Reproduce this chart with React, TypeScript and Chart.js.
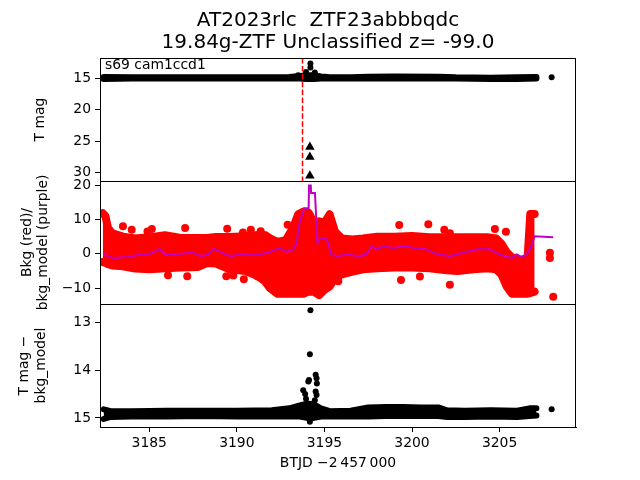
import React, { useEffect, useRef } from 'react';
import { Chart, registerables } from 'chart.js';

Chart.register(...registerables);

// ---------- text ----------
const TITLE_LINES = ['AT2023rlc  ZTF23abbbqdc', '19.84g-ZTF Unclassified z= -99.0'];
const PANEL_NOTE = 's69 cam1ccd1';
const X_TITLE = 'BTJD \u22122\u2009457\u2009000';
const Y1_TITLE = 'T mag';
const Y2_TITLE = ['Bkg (red)/', 'bkg_model (purple)'];
const Y3_TITLE = ['T mag \u2212', 'bkg_model'];

// ---------- axes ----------
const X_MIN = 3182.19;
const X_MAX = 3209.36;
const X_TICKS = [3185, 3190, 3195, 3200, 3205];
const Y1_MIN = 11.78;
const Y1_MAX = 31.3;
const Y1_TICKS = [15, 20, 25, 30];
const Y2_MIN = -14.6;
const Y2_MAX = 21.2;
const Y2_TICKS = [-10, 0, 10, 20];
const Y3_MIN = 12.62;
const Y3_MAX = 15.19;
const Y3_TICKS = [13, 14, 15];

// ---------- panel 1: TESS magnitude ----------
const EVENT_T = 3193.75;
const MAG_BAND_T = [3182.4, 3184, 3186, 3188, 3190, 3192, 3193.0, 3193.6, 3194.0, 3194.4, 3194.8, 3195.3, 3196.5, 3197.5, 3199, 3201.5, 3202.5, 3204.5, 3206, 3207.1];
const MAG_BAND_BRIGHT = [14.8, 14.85, 14.85, 14.85, 14.85, 14.85, 14.8, 14.65, 14.5, 14.5, 14.7, 14.85, 14.85, 14.75, 14.7, 14.75, 14.85, 14.9, 14.85, 14.8];
const MAG_BAND_FAINT = [15.1, 15.05, 15.05, 15.05, 15.05, 15.05, 15.05, 15.05, 15.1, 15.1, 15.05, 15.05, 15.05, 15.05, 15.05, 15.05, 15.05, 15.1, 15.1, 15.05];
const MAG_PT_T = [3194.2, 3194.2, 3193.95, 3194.45, 3193.5, 3207.97];
const MAG_PT_V = [12.65, 13.3, 14.0, 14.1, 14.5, 14.85];
const LIMIT_T = [3194.17, 3194.17, 3194.17];
const LIMIT_MAG = [25.9, 27.5, 30.45];

// ---------- panel 2: background ----------
const BKG_BAND_T = [3182.35, 3182.5, 3182.65, 3182.9, 3183.5, 3184.2, 3185.0, 3185.9, 3186.8, 3187.8, 3188.3, 3188.8, 3189.6, 3190.5, 3191.2, 3191.6, 3191.9, 3192.3, 3192.8, 3193.2, 3193.5, 3193.8, 3194.1, 3194.4, 3194.7, 3195.0, 3195.3, 3195.6, 3196.0, 3196.6, 3197.2, 3198.0, 3199.0, 3200.0, 3201.0, 3202.0, 3202.6, 3203.5, 3204.3, 3204.8, 3205.1, 3205.4, 3205.7, 3206.2, 3206.6, 3206.75, 3207.0];
const BKG_BAND_HI = [11.8, 11.0, 7.5, 6.0, 5.0, 4.5, 4.8, 5.4, 4.6, 4.6, 4.6, 4.9, 4.9, 5.1, 5.5, 5.5, 4.5, 3.5, 4.0, 7.5, 11.5, 12.3, 12.0, 9.0, 9.5, 9.0, 11.5, 6.5, 4.5, 4.2, 4.5, 5.0, 5.0, 5.2, 4.8, 4.8, 4.8, 4.8, 4.8, 4.5, 3.0, 0.5, -1.0, -2.0, -1.0, 11.6, 11.6];
const BKG_BAND_LO = [-2.4, -2.6, -3.0, -3.4, -3.6, -4.3, -4.5, -4.2, -4.0, -3.8, -2.7, -2.8, -4.5, -5.0, -6.5, -8.0, -10.0, -11.6, -11.6, -11.6, -11.6, -11.6, -11.0, -11.0, -12.0, -10.5, -9.5, -7.0, -6.0, -5.2, -4.5, -4.2, -4.0, -4.0, -4.2, -4.8, -5.0, -4.5, -4.2, -4.5, -6.0, -9.5, -11.6, -11.6, -11.6, -11.4, -11.0];
const BKG_PT_T = [3183.5, 3184.0, 3184.9, 3185.15, 3187.05, 3189.45, 3190.35, 3190.8, 3191.36, 3186.07, 3187.17, 3189.4, 3189.8, 3190.4, 3191.17, 3191.8, 3192.9, 3195.79, 3199.27, 3199.37, 3200.45, 3200.93, 3201.84, 3202.16, 3202.16, 3204.73, 3205.36, 3207.87, 3207.87, 3208.06];
const BKG_PT_V = [8.0, 7.0, 6.5, 7.2, 7.5, 7.3, 6.2, 7.0, 6.6, -6.2, -6.5, -6.5, -6.3, -7.4, -6.5, -8.8, 8.5, -8.0, 8.4, -7.6, -6.6, 8.6, 7.0, 6.0, -9.0, 7.2, 6.4, 0.3, -1.2, -12.5];
const MODEL_T = [3182.4, 3182.7, 3183.0, 3183.4, 3183.8, 3184.2, 3184.45, 3184.7, 3185.2, 3185.6, 3185.9, 3186.4, 3186.8, 3187.5, 3188.0, 3188.4, 3188.7, 3189.3, 3189.7, 3190.25, 3190.8, 3191.3, 3191.8, 3192.2, 3192.46, 3192.84, 3193.22, 3193.4, 3193.6, 3193.85, 3194.1, 3194.12, 3194.22, 3194.24, 3194.46, 3194.6, 3194.75, 3195.12, 3195.4, 3195.78, 3196.27, 3197.0, 3197.4, 3197.7, 3198.0, 3198.36, 3198.9, 3199.7, 3200.26, 3200.7, 3201.4, 3202.16, 3202.9, 3203.7, 3204.45, 3205.0, 3205.4, 3205.7, 3205.97, 3206.25, 3206.5, 3206.73, 3207.0, 3208.06];
const MODEL_V = [-0.2, -0.8, -1.3, -1.0, -0.9, -0.5, 0.0, -0.4, 0.3, 1.5, -0.2, -0.1, 0.0, 0.3, -0.7, 0.0, 1.5, 0.0, -0.7, 0.0, -0.4, -0.2, 0.4, 1.2, 1.7, 0.6, 1.3, 3.0, 9.5, 13.3, 13.3, 19.9, 19.9, 17.7, 17.7, 3.2, 4.6, 4.6, -0.3, -0.7, -0.2, -0.7, 0.0, 2.2, 1.3, 2.2, 1.7, 2.2, 1.5, 1.5, 0.0, -0.7, 0.3, 1.3, 1.3, -0.2, -0.8, -1.2, -0.2, -0.9, -0.3, 1.3, 5.1, 4.8];

// ---------- panel 3: T mag - bkg_model ----------
const DIFF_BAND_T = [3182.4, 3182.8, 3184, 3186, 3188, 3190, 3192, 3193.0, 3193.6, 3194.0, 3194.4, 3194.8, 3195.3, 3196.5, 3197.5, 3198.5, 3199.5, 3200.5, 3201.5, 3202.0, 3203, 3204.5, 3206, 3206.7, 3207.1];
const DIFF_BAND_HI = [14.82, 14.86, 14.86, 14.85, 14.85, 14.85, 14.84, 14.8, 14.74, 14.7, 14.72, 14.8, 14.86, 14.85, 14.78, 14.77, 14.77, 14.78, 14.78, 14.84, 14.85, 14.84, 14.85, 14.8, 14.8];
const DIFF_BAND_LO = [15.02, 14.98, 14.97, 14.97, 14.96, 14.97, 14.97, 14.97, 14.97, 15.0, 15.0, 14.97, 14.97, 14.97, 14.97, 14.96, 14.96, 14.96, 14.96, 14.98, 14.98, 14.97, 14.98, 14.96, 14.95];
const DIFF_PT_T = [3194.2, 3194.17, 3193.79, 3193.9, 3194.08, 3194.12, 3194.5, 3194.55, 3194.57, 3194.5, 3194.55, 3194.45, 3194.17, 3193.95, 3207.97];
const DIFF_PT_V = [12.75, 13.67, 14.42, 14.5, 14.24, 14.21, 14.1, 14.17, 14.28, 14.45, 14.52, 14.63, 15.08, 14.6, 14.82];

const FONT = 'DejaVu Sans';
const zip = (t: number[], v: number[]) => t.map((x, i) => ({ x, y: v[i] }));
const fmt = (v: number) => (v < 0 ? '\u2212' + Math.abs(v) : String(v));

const band = (id: string, t: number[], hi: number[], lo: number[], color: string, width: number) => [
  { type: 'line', yAxisID: id, data: zip(t, hi), borderColor: color, backgroundColor: color, borderWidth: width, pointRadius: 0, fill: '+1', borderJoinStyle: 'round', borderCapStyle: 'round', order: 3 },
  { type: 'line', yAxisID: id, data: zip(t, lo), borderColor: color, backgroundColor: color, borderWidth: width, pointRadius: 0, fill: false, borderJoinStyle: 'round', borderCapStyle: 'round', order: 3 },
];
const dots = (id: string, t: number[], v: number[], color: string, r: number, style = 'circle', order = 2) => ({
  type: 'line', yAxisID: id, data: zip(t, v), showLine: false, pointStyle: style, pointRadius: r,
  pointBackgroundColor: color, pointBorderColor: color, pointBorderWidth: 0, order,
});

const yAxis = (min: number, max: number, ticks: number[], reverse: boolean, weight: number, title: string | string[], padTop: number) => ({
  type: 'linear', position: 'left', stack: 'panels', stackWeight: 1, weight, min, max, reverse,
  afterBuildTicks: (s: any) => { s.ticks = ticks.map((value) => ({ value })); },
  afterFit: (s: any) => { s.width = 84; },
  ticks: { color: '#000', font: { family: FONT, size: 13.9 }, padding: 4, callback: (v: any) => fmt(Number(v)) },
  grid: { display: true, drawOnChartArea: false, drawTicks: true, tickLength: 5, color: '#000', tickColor: '#000' },
  border: { display: true, color: '#000', width: 1 },
  title: { display: true, text: title, color: '#000', font: { family: FONT, size: 13.9, lineHeight: 1.2 }, padding: { top: padTop, bottom: 0 } },
});

const framePlugin = {
  id: 'frames',
  afterDraw(chart: any) {
    const { ctx, chartArea } = chart;
    ctx.save();
    ctx.strokeStyle = '#000';
    ctx.lineWidth = 1;
    for (const id of ['y1', 'y2', 'y3']) {
      const s = chart.scales[id];
      ctx.strokeRect(Math.round(chartArea.left) + 0.5, Math.round(s.top) + 0.5, Math.round(chartArea.right - chartArea.left) - 1, Math.round(s.bottom - s.top));
    }
    ctx.font = `13.9px "${FONT}"`;
    ctx.fillStyle = '#000';
    ctx.textAlign = 'left';
    ctx.textBaseline = 'middle';
    ctx.fillText(PANEL_NOTE, chartArea.left + 5, chart.scales.y1.top + 7);
    ctx.restore();
  },
};

export default function App() {
  const ref = useRef<HTMLCanvasElement>(null);
  useEffect(() => {
    if (!ref.current) return;
    const datasets: any[] = [
      {
        type: 'line', yAxisID: 'y1', data: [{ x: EVENT_T, y: Y1_MIN }, { x: EVENT_T, y: Y1_MAX }],
        borderColor: '#ff0000', borderWidth: 1.5, borderDash: [5.5, 2.4], pointRadius: 0, fill: false, order: 0,
      },
      dots('y1', LIMIT_T, LIMIT_MAG, '#000', 5.5, 'triangle', 1),
      dots('y1', MAG_PT_T, MAG_PT_V, '#000', 3),
      ...band('y1', MAG_BAND_T, MAG_BAND_BRIGHT, MAG_BAND_FAINT, '#000', 6),
      { type: 'line', yAxisID: 'y2', data: zip(MODEL_T, MODEL_V), borderColor: '#bf00bf', borderWidth: 2, pointRadius: 0, fill: false, order: 0 },
      dots('y2', BKG_PT_T, BKG_PT_V, '#ff0000', 4),
      ...band('y2', BKG_BAND_T, BKG_BAND_HI, BKG_BAND_LO, '#ff0000', 8),
      dots('y3', DIFF_PT_T, DIFF_PT_V, '#000', 3),
      ...band('y3', DIFF_BAND_T, DIFF_BAND_HI, DIFF_BAND_LO, '#000', 6),
    ];
    const chart = new Chart(ref.current, {
      type: 'line',
      data: { datasets },
      plugins: [framePlugin],
      options: {
        animation: false,
        responsive: false,
        events: [],
        layout: { padding: { left: 16, right: 0, top: 0, bottom: 0 } },
        plugins: {
          legend: { display: false },
          tooltip: { enabled: false },
          title: {
            display: true, text: TITLE_LINES, color: '#000', fullSize: true,
            font: { family: FONT, size: 20, weight: 'normal', lineHeight: 1.1 },
            padding: { top: 9.5, bottom: 4.5 },
          },
        },
        scales: {
          x: {
            type: 'linear', position: 'bottom', min: X_MIN, max: X_MAX,
            afterBuildTicks: (s: any) => { s.ticks = X_TICKS.map((value) => ({ value })); },
            afterFit: (s: any) => { s.height = 53; },
            ticks: { color: '#000', font: { family: FONT, size: 13.9 }, padding: 3, maxRotation: 0, callback: (v: any) => String(v) },
            grid: { display: true, drawOnChartArea: false, drawTicks: true, tickLength: 5, color: '#000', tickColor: '#000' },
            border: { display: true, color: '#000', width: 1 },
            title: { display: true, text: X_TITLE, color: '#000', font: { family: FONT, size: 13.9, lineHeight: 1.2 }, padding: { top: 0, bottom: 8.6 } },
          },
          y1: yAxis(Y1_MIN, Y1_MAX, Y1_TICKS, true, 3, Y1_TITLE, 15.6),
          y2: yAxis(Y2_MIN, Y2_MAX, Y2_TICKS, false, 2, Y2_TITLE, 2.6),
          y3: yAxis(Y3_MIN, Y3_MAX, Y3_TICKS, true, 1, Y3_TITLE, 0),
          pad: {
            type: 'linear', position: 'right', display: true,
            ticks: { display: false }, grid: { display: false }, border: { display: false },
            afterFit: (s: any) => { s.width = 64; },
          },
        },
      } as any,
    } as any);
    return () => chart.destroy();
  }, []);
  return (
    <div style={{ position: 'absolute', left: 0, top: 0, width: 640, height: 480, background: '#fff' }}>
      <canvas ref={ref} width={640} height={480} style={{ display: 'block' }} />
    </div>
  );
}
